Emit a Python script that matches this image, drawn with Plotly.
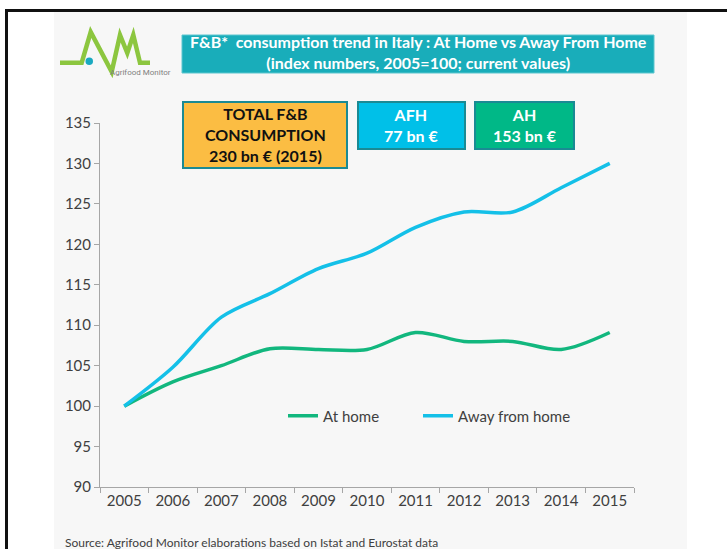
import plotly.graph_objects as go

W, H = 727, 549

years = ["2005", "2006", "2007", "2008", "2009", "2010", "2011", "2012", "2013", "2014", "2015"]
at_home = [100, 103, 105, 107.1, 107, 107, 109.1, 108, 108, 107, 109.1]
away_from_home = [100, 104.8, 111, 113.9, 117, 118.9, 122.1, 124, 124, 127, 130]

GREEN = "#12b77e"
CYAN = "#14c0e8"
TEXT = "#404040"
AXIS = "#a6a6a6"


def px(x):
    return x / W


def py(y):
    return 1 - y / H


fig = go.Figure()
fig.add_trace(go.Scatter(x=years, y=at_home, name="At home", mode="lines", legend="legend",
                         line=dict(color=GREEN, width=3.5, shape="spline", smoothing=0.9)))
fig.add_trace(go.Scatter(x=years, y=away_from_home, name="Away from home", mode="lines", legend="legend2",
                         line=dict(color=CYAN, width=3.5, shape="spline", smoothing=0.9)))

shapes = []
# gray slide panel
shapes.append(dict(type="rect", xref="paper", yref="paper", x0=px(54), x1=px(687), y0=py(549), y1=py(12),
                   fillcolor="#f7f7f7", line=dict(width=0), layer="below"))
# black frame
shapes.append(dict(type="line", xref="paper", yref="paper", x0=px(5), x1=px(727), y0=py(10.5), y1=py(10.5),
                   line=dict(color="#111111", width=3)))
shapes.append(dict(type="line", xref="paper", yref="paper", x0=px(6.5), x1=px(6.5), y0=py(9), y1=py(549),
                   line=dict(color="#111111", width=3)))
# title box
shapes.append(dict(type="rect", xref="paper", yref="paper", x0=px(182), x1=px(654), y0=py(73), y1=py(35),
                   fillcolor="#19adba", line=dict(color="#5cc6cf", width=1)))
# info boxes
BORDER = "#1a8a94"
shapes.append(dict(type="rect", xref="paper", yref="paper", x0=px(183), x1=px(347), y0=py(168), y1=py(102),
                   fillcolor="#fbbd43", line=dict(color=BORDER, width=2)))
shapes.append(dict(type="rect", xref="paper", yref="paper", x0=px(358), x1=px(465), y0=py(149), y1=py(102),
                   fillcolor="#00c0e8", line=dict(color=BORDER, width=2)))
shapes.append(dict(type="rect", xref="paper", yref="paper", x0=px(475), x1=px(574), y0=py(149), y1=py(102),
                   fillcolor="#00b887", line=dict(color=BORDER, width=2)))
# logo zigzag
pts = [(60, 62.7), (81.7, 62.7), (90.7, 32), (111.7, 71.7), (120, 35), (127.3, 53), (133.3, 35), (140, 62.7), (150, 62.7)]
path = "M " + " L ".join(f"{px(x)},{py(y)}" for x, y in pts)
shapes.append(dict(type="path", xref="paper", yref="paper", path=path,
                   line=dict(color="#8cc63f", width=4.5)))
shapes.append(dict(type="circle", xref="paper", yref="paper", x0=px(85.5), x1=px(93), y0=py(65), y1=py(57.5),
                   fillcolor="#1aa9c0", line=dict(width=0)))

annotations = [
    dict(x=px(418), y=py(52), xref="paper", yref="paper", showarrow=False, xanchor="center", yanchor="middle",
         text="<b>F&B*  consumption trend in Italy : At Home vs Away From Home<br>(index numbers, 2005=100; current values)</b>",
         font=dict(size=16, color="white"), align="center"),
    dict(x=px(265), y=py(134), xref="paper", yref="paper", showarrow=False, xanchor="center", yanchor="middle",
         text="<b>TOTAL F&B<br>CONSUMPTION<br>230 bn € (2015)</b>",
         font=dict(size=16, color="#111111"), align="center"),
    dict(x=px(411.5), y=py(124.5), xref="paper", yref="paper", showarrow=False, xanchor="center", yanchor="middle",
         text="<b>AFH<br>77 bn €</b>", font=dict(size=16, color="white"), align="center"),
    dict(x=px(524.5), y=py(124.5), xref="paper", yref="paper", showarrow=False, xanchor="center", yanchor="middle",
         text="<b>AH<br>153 bn €</b>", font=dict(size=16, color="white"), align="center"),
    dict(x=px(140), y=py(73), xref="paper", yref="paper", showarrow=False, xanchor="center", yanchor="middle",
         text="Agrifood Monitor", font=dict(size=8, color="#7f7f7f", family="Liberation Sans Narrow, Roboto")),
    dict(x=px(63), y=py(542), xref="paper", yref="paper", showarrow=False, xanchor="left", yanchor="middle",
         text="Source: Agrifood Monitor elaborations based on Istat and Eurostat data",
         font=dict(size=12, color=TEXT)),
]

legend_common = dict(orientation="h", xanchor="left", yanchor="middle", bgcolor="rgba(0,0,0,0)",
                     font=dict(size=15, color=TEXT), itemwidth=30)

fig.update_layout(
    width=W, height=H,
    autosize=False,
    margin=dict(l=0, r=0, t=0, b=0, pad=0, autoexpand=False),
    paper_bgcolor="white",
    plot_bgcolor="rgba(0,0,0,0)",
    font=dict(family="Lato", color=TEXT),
    shapes=shapes,
    annotations=annotations,
    showlegend=True,
    legend=dict(x=px(283), y=py(416), **legend_common),
    legend2=dict(x=px(418), y=py(416), **legend_common),
    xaxis=dict(domain=[px(100), px(634)], type="category", range=[-0.5, 10.5],
               showline=True, linecolor=AXIS, linewidth=1, ticks="outside", tickson="boundaries",
               ticklen=5, tickcolor=AXIS, showgrid=False, zeroline=False,
               tickfont=dict(size=15, color=TEXT), fixedrange=True, automargin=False),
    yaxis=dict(domain=[py(487), py(123)], range=[90, 135], dtick=5, tick0=90,
               showline=True, linecolor=AXIS, linewidth=1, ticks="outside", ticklen=5, tickcolor=AXIS,
               showgrid=False, zeroline=False, tickfont=dict(size=15, color=TEXT), fixedrange=True,
               automargin=False),
)

fig.write_html("out.html", config={"displayModeBar": False},
               post_script="document.body.style.margin='0';document.body.style.overflow='hidden';")
